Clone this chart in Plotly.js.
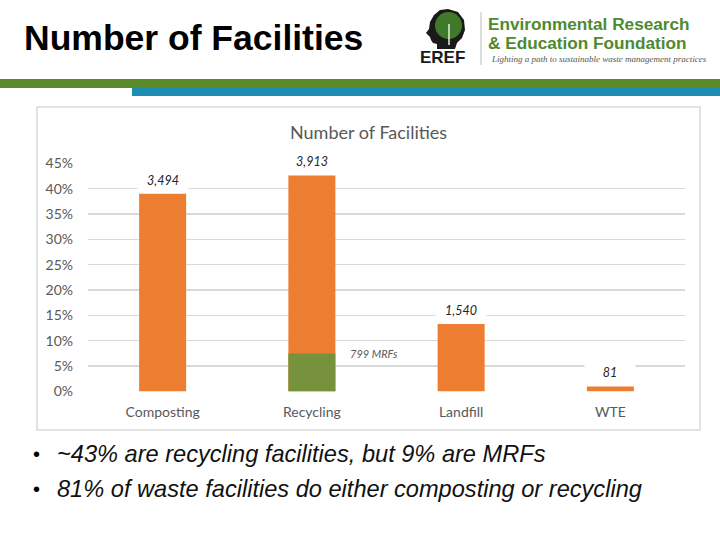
<!DOCTYPE html>
<html>
<head>
<meta charset="utf-8">
<script src="https://cdn.plot.ly/plotly-3.0.1.min.js"></script>
<style>html,body{margin:0;padding:0;background:#fff;}#chart{width:720px;height:540px;}</style>
</head>
<body>
<div id="chart"></div>
<script>
// ---- data ----
const categories = ['Composting', 'Recycling', 'Landfill', 'WTE'];
const sharePct = [39.0, 42.6, 13.3, 1.0];          // bar heights (% of facilities)
const facilityCounts = ['3,494', '3,913', '1,540', '81'];
const mrfCategory = ['Recycling'];
const mrfPct = [7.5];
const mrfLabel = '799 MRFs';
const yTickVals = [0, 5, 10, 15, 20, 25, 30, 35, 40, 45];
const yTickText = yTickVals.map(v => v + '%');

const slideTitle = 'Number of Facilities';
const chartTitle = 'Number of Facilities';
const bullets = [
  '~43% are recycling facilities, but 9% are MRFs',
  '81% of waste facilities do either composting or recycling'
];

// ---- helpers: pixel -> paper ----
const W = 720, H = 540;
const px = x => x / W;
const py = y => 1 - y / H;

const orange = '#ED7D31';
const green = '#76923C';
const grid = '#D9D9D9';
const axisText = '#595959';
const font = 'Lato, "Open Sans", sans-serif';
const arial = '"Liberation Sans", Arial, sans-serif';

const traces = [
  {type: 'bar', x: categories, y: sharePct, marker: {color: orange}, hoverinfo: 'skip', showlegend: false},
  {type: 'bar', x: mrfCategory, y: mrfPct, marker: {color: green}, hoverinfo: 'skip', showlegend: false}
];

const annotations = [];
categories.forEach((c, i) => {
  annotations.push({
    x: c, y: sharePct[i], xref: 'x', yref: 'y', text: '<i>' + facilityCounts[i] + '</i>',
    showarrow: false, yanchor: 'bottom', yshift: 4, bgcolor: '#ffffff', borderpad: 1,
    width: 48, height: 16,
    font: {family: font, size: 12.5, color: '#262626'}
  });
});
annotations.push({
  x: mrfCategory[0], y: mrfPct[0], xref: 'x', yref: 'y', text: '<i>' + mrfLabel + '</i>',
  showarrow: false, xanchor: 'left', yanchor: 'middle', xshift: 36,
  font: {family: font, size: 11, color: axisText}
});
// chart title
annotations.push({x: px(368), y: py(132), xref: 'paper', yref: 'paper', text: chartTitle,
  showarrow: false, xanchor: 'center', yanchor: 'middle', font: {family: font, size: 18, color: axisText}});
// slide title
annotations.push({x: px(22), y: py(38), xref: 'paper', yref: 'paper', text: '<b>' + slideTitle + '</b>',
  showarrow: false, xanchor: 'left', yanchor: 'middle', font: {family: arial, size: 35.5, color: '#000'}});
// logo texts
annotations.push({x: px(486), y: py(24), xref: 'paper', yref: 'paper', text: '<b>Environmental Research</b>',
  showarrow: false, xanchor: 'left', yanchor: 'middle', font: {family: arial, size: 17.2, color: '#4E8A2E'}});
annotations.push({x: px(486), y: py(43), xref: 'paper', yref: 'paper', text: '<b>&amp; Education Foundation</b>',
  showarrow: false, xanchor: 'left', yanchor: 'middle', font: {family: arial, size: 17.2, color: '#4E8A2E'}});
annotations.push({x: px(489), y: py(59), xref: 'paper', yref: 'paper', text: '<i>Lighting a path to sustainable waste management practices</i>',
  showarrow: false, xanchor: 'left', yanchor: 'middle', font: {family: '"Liberation Serif", serif', size: 9, color: '#555'}});
annotations.push({x: px(442), y: py(58), xref: 'paper', yref: 'paper', text: '<b>EREF</b>',
  showarrow: false, xanchor: 'center', yanchor: 'middle', font: {family: arial, size: 17, color: '#1a1a1a'}});
// bullets
bullets.forEach((b, i) => {
  const yy = 454 + i * 35;
  annotations.push({x: px(31), y: py(yy), xref: 'paper', yref: 'paper', text: '•', showarrow: false,
    xanchor: 'left', yanchor: 'middle', font: {family: arial, size: 20, color: '#000'}});
  annotations.push({x: px(55), y: py(yy), xref: 'paper', yref: 'paper', text: '<i>' + b + '</i>', showarrow: false,
    xanchor: 'left', yanchor: 'middle', font: {family: arial, size: 23.6, color: '#111'}});
});

// head silhouette path (pixel coords -> paper)
function pathFromPx(pts) {
  return 'M ' + pts.map(p => px(p[0]).toFixed(5) + ',' + py(p[1]).toFixed(5)).join(' L ') + ' Z';
}
const headPts = [[448,9],[458,12],[464,20],[465,30],[462,38],[457,43],[455,49],[437,49],[437,44],[433,43],[431,40],[430,37],[428,35],[426,33],[429,29],[430,22],[434,15],[440,10]];

const shapes = [
  // green band
  {type: 'rect', xref: 'paper', yref: 'paper', x0: 0, x1: 1, y0: py(88), y1: py(79), fillcolor: '#5A8A2A', line: {width: 0}, layer: 'below'},
  // blue band
  {type: 'rect', xref: 'paper', yref: 'paper', x0: px(132), x1: 1, y0: py(96), y1: py(88), fillcolor: '#1B8DB3', line: {width: 0}, layer: 'below'},
  // chart frame
  {type: 'rect', xref: 'paper', yref: 'paper', x0: px(37), x1: px(700), y0: py(430), y1: py(107), line: {color: grid, width: 1.5}, fillcolor: 'rgba(0,0,0,0)', layer: 'below'},
  // logo divider
  {type: 'line', xref: 'paper', yref: 'paper', x0: px(481), x1: px(481), y0: py(12), y1: py(65), line: {color: '#bbb', width: 1}},
  // head silhouette
  {type: 'path', xref: 'paper', yref: 'paper', path: pathFromPx(headPts), fillcolor: '#1a1a1a', line: {width: 0}},
  // tree crown
  {type: 'circle', xref: 'paper', yref: 'paper', x0: px(435), x1: px(462), y0: py(39), y1: py(12), fillcolor: '#3E7A2A', line: {width: 0}},
  // trunk
  {type: 'line', xref: 'paper', yref: 'paper', x0: px(449), x1: px(449), y0: py(45), y1: py(24), line: {color: '#e8f0e0', width: 1.5}}
];

const layout = {
  width: W, height: H,
  margin: {l: 0, r: 0, t: 0, b: 0},
  paper_bgcolor: '#ffffff', plot_bgcolor: '#ffffff',
  barmode: 'overlay', bargap: 0.685,
  showlegend: false,
  xaxis: {
    domain: [px(88), px(685)], anchor: 'y',
    type: 'category', showgrid: false, zeroline: false, showline: false,
    ticks: '', ticklabelstandoff: 10,
    tickfont: {family: font, size: 14, color: axisText}
  },
  yaxis: {
    domain: [py(391.5), py(163.3)], anchor: 'x',
    range: [0, 45], tickmode: 'array', tickvals: yTickVals, ticktext: yTickText,
    showgrid: true, gridcolor: grid, gridwidth: 1.3, zeroline: false, showline: false,
    ticks: '', ticklabelstandoff: 14,
    tickfont: {family: font, size: 14, color: axisText}
  },
  annotations: annotations,
  shapes: shapes
};

Plotly.newPlot('chart', traces, layout, {staticPlot: true, displayModeBar: false});
</script>
</body>
</html>
